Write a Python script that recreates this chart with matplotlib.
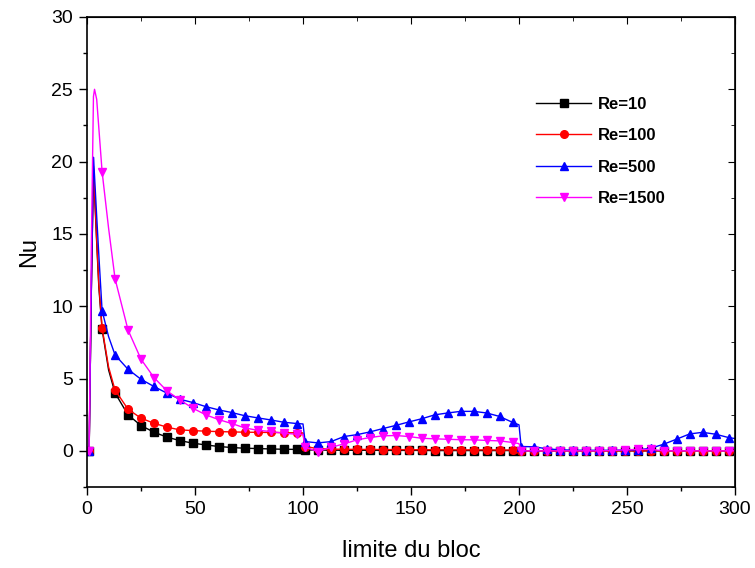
import numpy as np
import matplotlib
matplotlib.use("Agg")
import matplotlib.pyplot as plt
from matplotlib.ticker import MultipleLocator

#---------------------------------------------------------------
# Nu along the block boundary for 4 Reynolds numbers
#---------------------------------------------------------------

# position along the block boundary (line points)
x = [1, 2, 3, 3.5, 4.5, 5.5, 7, 10, 13, 19, 25, 31, 37, 43, 49, 55, 61, 67, 73, 79, 85, 91, 97, 100,
     101, 107, 113, 119, 125, 131, 137, 143, 149, 155, 161, 167, 173, 179, 185, 191, 197, 200,
     201, 207, 213, 219, 225, 231, 237, 243, 249, 255, 261, 267, 273, 279, 285, 291, 297, 300]

# x positions that carry a symbol
marks = [1 + 6 * k + 100 * b for b in range(3) for k in range(17)]

nu_re10 = [0, 11, 19.5, 17.8, 14.4, 11.3, 8.4, 5.6, 4.0, 2.49, 1.75, 1.29, 0.95, 0.71, 0.53, 0.41, 0.30, 0.23, 0.18, 0.16, 0.13, 0.11, 0.10, 0.10,
           0.07, 0.05, 0.05, 0.04, 0.04, 0.04, 0.03, 0.03, 0.03, 0.03, 0.02, 0.02, 0.02, 0.02, 0.02, 0.02, 0.02, 0.02,
           0, 0, 0, 0, 0, 0, 0, 0, 0, 0, 0, 0, 0, 0, 0, 0, 0, 0]
nu_re100 = [0, 11, 19.7, 18.0, 14.6, 11.5, 8.5, 5.8, 4.2, 2.88, 2.26, 1.91, 1.64, 1.45, 1.40, 1.36, 1.33, 1.31, 1.29, 1.28, 1.27, 1.26, 1.25, 1.24,
            0.30, 0.15, 0.12, 0.11, 0.10, 0.10, 0.09, 0.09, 0.08, 0.08, 0.08, 0.07, 0.07, 0.07, 0.07, 0.06, 0.06, 0.06,
            0, 0, 0, 0, 0, 0, 0, 0, 0, 0, 0, 0, 0, 0, 0, 0, 0, 0]
nu_re500 = [0, 11, 20.3, 19.0, 16.2, 13.5, 9.7, 7.9, 6.63, 5.64, 4.95, 4.45, 3.99, 3.57, 3.34, 3.06, 2.83, 2.65, 2.43, 2.28, 2.14, 1.98, 1.89, 1.86,
            0.64, 0.55, 0.64, 0.99, 1.12, 1.31, 1.54, 1.76, 2.00, 2.22, 2.49, 2.62, 2.73, 2.73, 2.62, 2.38, 1.97, 1.80,
            0.30, 0.28, 0.14, 0.07, 0.05, 0.04, 0.04, 0.04, 0.06, 0.07, 0.18, 0.46, 0.81, 1.17, 1.28, 1.15, 0.92, 0.85]
nu_re1500 = [0, 14, 24.5, 25.0, 24.3, 22.3, 19.3, 15.4, 11.9, 8.36, 6.34, 5.07, 4.15, 3.52, 2.95, 2.49, 2.16, 1.89, 1.59, 1.42, 1.34, 1.22, 1.15, 1.13,
             0.25, -0.05, 0.25, 0.48, 0.76, 0.92, 1.04, 1.06, 0.99, 0.87, 0.83, 0.80, 0.77, 0.76, 0.72, 0.69, 0.58, 0.50,
             0, 0, 0, 0, 0, 0, 0, 0.02, 0.07, 0.10, 0.10, 0, 0, 0, 0, 0, 0, 0]

labels = ["Re=10", "Re=100", "Re=500", "Re=1500"]
colors = ["black", "red", "blue", "magenta"]
markers = ["s", "o", "^", "v"]


def plot_nu():
    plt.rcParams['font.family'] = ['Liberation Sans', 'DejaVu Sans']
    fig = plt.figure(figsize=(7.55, 5.68), dpi=100)
    ax = fig.add_axes([0.1152, 0.1426, 0.8583, 0.8275])

    idx = [i for i, v in enumerate(x) if v in marks]
    for y, lab, c, m in zip([nu_re10, nu_re100, nu_re500, nu_re1500], labels, colors, markers):
        ax.plot(x, y, color=c, lw=1.0, marker=m, ms=5.5, mec=c, mfc=c,
                markevery=idx, label=lab)

    ax.set_xlim(0, 300)
    ax.set_ylim(-2.5, 30)
    ax.xaxis.set_major_locator(MultipleLocator(50))
    ax.xaxis.set_minor_locator(MultipleLocator(25))
    ax.yaxis.set_major_locator(MultipleLocator(5))
    ax.yaxis.set_minor_locator(MultipleLocator(2.5))
    ax.tick_params(which='major', direction='out', length=6, width=1, labelsize=14, pad=4)
    ax.tick_params(which='minor', direction='out', length=3, width=1)
    for s in ax.spines.values():
        s.set_linewidth(1.2)
    # inward ticks on the opposite sides
    ax2 = ax.secondary_xaxis('top')
    ax2.xaxis.set_major_locator(MultipleLocator(50))
    ax2.xaxis.set_minor_locator(MultipleLocator(25))
    ax2.tick_params(which='major', direction='in', length=5, labeltop=False)
    ax2.tick_params(which='minor', direction='in', length=3)
    ay2 = ax.secondary_yaxis('right')
    ay2.yaxis.set_major_locator(MultipleLocator(5))
    ay2.yaxis.set_minor_locator(MultipleLocator(2.5))
    ay2.tick_params(which='major', direction='in', length=5, labelright=False)
    ay2.tick_params(which='minor', direction='in', length=3)

    ax.set_xlabel("limite du bloc", fontsize=17, labelpad=16)
    ax.set_ylabel("Nu", fontsize=17, labelpad=8)

    ax.legend(loc='upper left', bbox_to_anchor=(0.693, 0.83), frameon=False,
              borderpad=0, borderaxespad=0,
              handlelength=3.3, labelspacing=0.98, handletextpad=0.42,
              prop={'weight': 'bold', 'size': 12})

    fig.savefig("out.png", dpi=100)


if __name__ == "__main__":
    plot_nu()
